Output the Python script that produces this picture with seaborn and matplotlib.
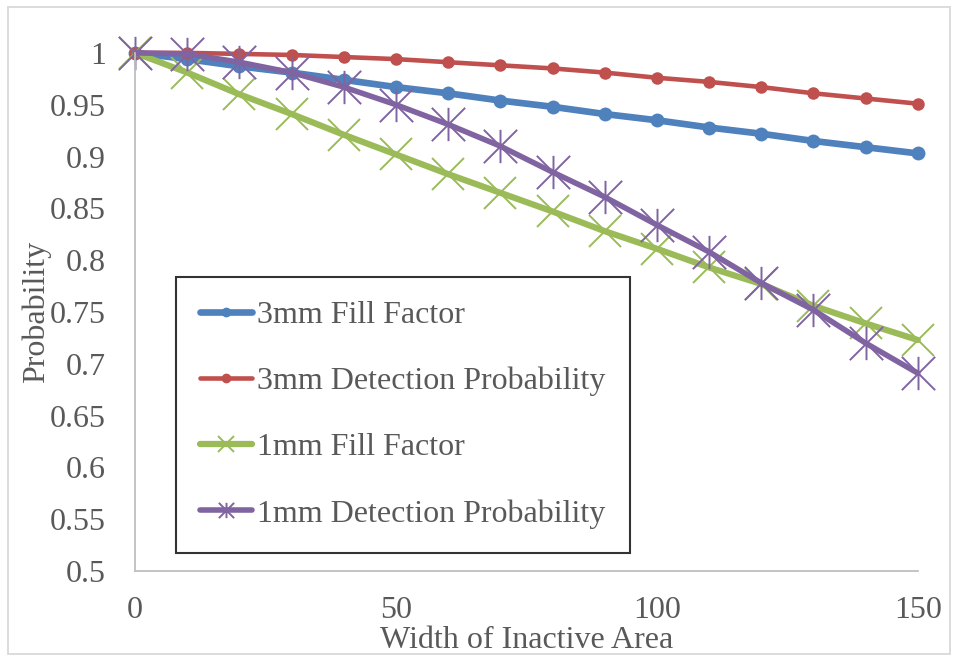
import numpy as np
import pandas as pd
import matplotlib
matplotlib.use("Agg")
import matplotlib.pyplot as plt
import seaborn as sns
from matplotlib.patches import Rectangle
from matplotlib.path import Path

# data
width = [0, 10, 20, 30, 40, 50, 60, 70, 80, 90, 100, 110, 120, 130, 140, 150]
fill_3mm = [1.0, 0.994, 0.987, 0.981, 0.974, 0.967, 0.961, 0.954, 0.948, 0.941,
            0.935, 0.928, 0.922, 0.915, 0.909, 0.903]
detect_3mm = [1.0, 1.0, 0.999, 0.998, 0.996, 0.994, 0.991, 0.988, 0.985, 0.981,
              0.976, 0.972, 0.967, 0.961, 0.956, 0.951]
fill_1mm = [1.0, 0.981, 0.960, 0.941, 0.921, 0.902, 0.883, 0.865, 0.847, 0.828,
            0.811, 0.793, 0.777, 0.756, 0.739, 0.723]
detect_1mm = [1.0, 0.999, 0.991, 0.981, 0.967, 0.950, 0.931, 0.910, 0.885, 0.861,
              0.834, 0.808, 0.778, 0.752, 0.720, 0.691]

labels = ["3mm Fill Factor", "3mm Detection Probability",
          "1mm Fill Factor", "1mm Detection Probability"]
colors = ["#4F81BD", "#C0504D", "#9BBB59", "#8064A2"]

sns.set_style("white")
plt.rcParams["font.family"] = ["Liberation Serif", "DejaVu Serif"]
txt = "#595959"
fs = 23

# excel style star: vertical bar plus an X
star = Path([(0, -1), (0, 1), (-1, -1), (1, 1), (-1, 1), (1, -1)],
            [Path.MOVETO, Path.LINETO] * 3)

fig = plt.figure(figsize=(9.58, 6.61), dpi=100)
ax = fig.add_axes([0.141, 0.136, 0.817, 0.784])

# (values, marker, markersize, linewidth, markeredgewidth, legend markersize)
styles = [
    (fill_3mm, "o", 10, 4.8, 0, 7),
    (detect_3mm, "o", 9, 3.3, 0, 7),
    (fill_1mm, "x", 23, 4.5, 1.4, 12),
    (detect_1mm, star, 24, 4.0, 1.4, 11),
]
for (vals, mk, ms, lw, mew, lms), lab, c in zip(styles, labels, colors):
    sns.lineplot(x=width, y=vals, ax=ax, color=c, marker=mk, markersize=ms,
                 linewidth=lw, markeredgewidth=mew, markeredgecolor=c,
                 label=lab, clip_on=False)

ax.set_xlim(0, 150)
ax.set_ylim(0.5, 1.0)
ax.set_xticks([0, 50, 100, 150])
yt = np.round(np.arange(0.5, 1.001, 0.05), 2)
ax.set_yticks(yt)
ax.set_yticklabels([f"{v:g}" for v in yt])
ax.tick_params(axis="both", length=0, labelsize=fs, colors=txt)
ax.tick_params(axis="x", pad=18)
ax.tick_params(axis="y", pad=21)
for s in ["top", "right"]:
    ax.spines[s].set_visible(False)
for s in ["left", "bottom"]:
    ax.spines[s].set_color("#BFBFBF")
    ax.spines[s].set_linewidth(1.3)

ax.set_xlabel("Width of Inactive Area", fontsize=fs, color=txt, labelpad=1)
ax.set_ylabel("Probability", fontsize=fs, color=txt, labelpad=-1)

leg = ax.legend(loc="upper left", bbox_to_anchor=(0.052, 0.568), fontsize=fs,
                frameon=True, fancybox=False, handlelength=1.65, handletextpad=0.15,
                labelspacing=1.15, borderpad=0.75, borderaxespad=0)
leg.get_frame().set_edgecolor("black")
leg.get_frame().set_linewidth(1.5)
for t in leg.get_texts():
    t.set_color(txt)
for h, st in zip(leg.legend_handles, styles):
    h.set_markersize(st[5])

fig.patches.append(Rectangle((0.008, 0.01), 0.984, 0.98, transform=fig.transFigure,
                             fill=False, edgecolor="#D9D9D9", linewidth=1.3))

fig.savefig("out.png", dpi=100)
